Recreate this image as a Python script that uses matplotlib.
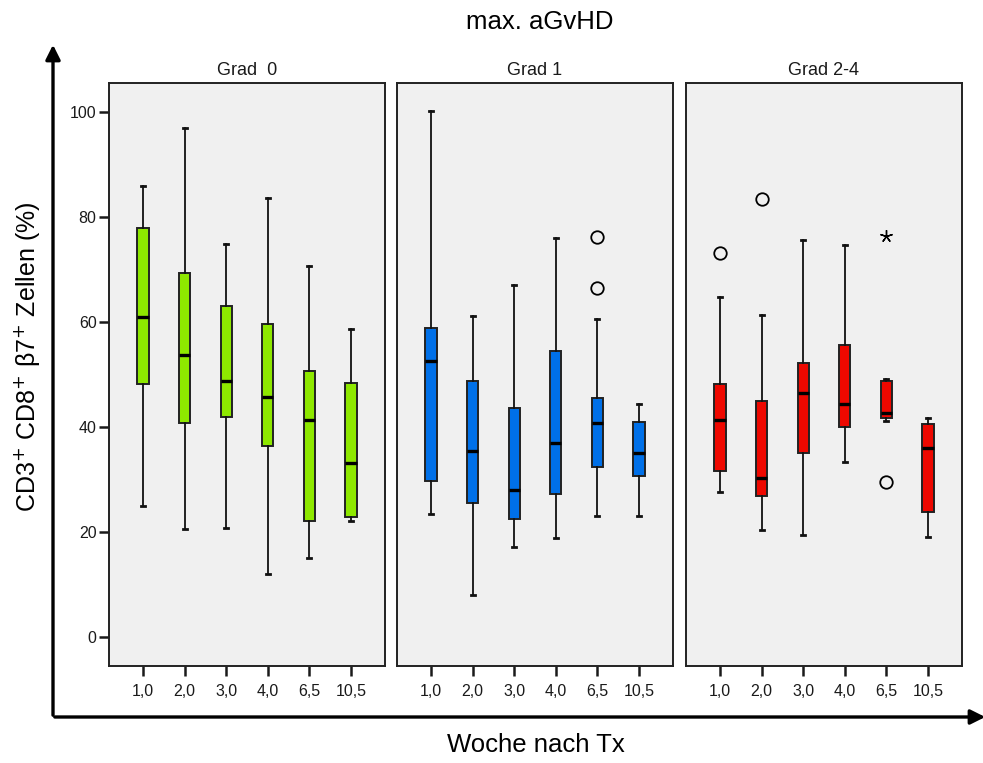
import matplotlib
matplotlib.use("Agg")
import matplotlib.pyplot as plt
from matplotlib.patches import FancyArrowPatch

plt.rcParams["font.family"] = ["Liberation Sans", "DejaVu Sans"]

W, H = 983, 763
PANEL_BG, INK = "#f0f0f0", "#1a1a1a"

weeks = ["1,0", "2,0", "3,0", "4,0", "6,5", "10,5"]
grades = ["Grad  0", "Grad 1", "Grad 2-4"]
colors = ["#8ee800", "#0070e8", "#ee0800"]

# per grade: whisker low, Q1, median, Q3, whisker high
whislo = [[25.0, 20.5, 20.8, 12.0, 15.0, 22.1],
          [23.5, 8.0, 17.2, 18.9, 23.1, 23.1],
          [27.6, 20.4, 19.5, 33.3, 41.1, 19.1]]
q1 = [[48.2, 40.8, 42.0, 36.4, 22.2, 22.9],
      [29.8, 25.6, 22.5, 27.2, 32.4, 30.7],
      [31.6, 26.9, 35.1, 40.0, 41.8, 23.8]]
med = [[60.9, 53.8, 48.8, 45.7, 41.3, 33.1],
       [52.6, 35.4, 28.1, 36.9, 40.7, 35.1],
       [41.3, 30.3, 46.5, 44.4, 42.6, 36.0]]
q3 = [[77.8, 69.3, 63.1, 59.7, 50.7, 48.4],
      [58.9, 48.8, 43.7, 54.5, 45.6, 40.9],
      [48.2, 45.0, 52.2, 55.7, 48.7, 40.5]]
whishi = [[85.8, 97.0, 74.8, 83.6, 70.7, 58.7],
          [100.1, 61.2, 67.0, 75.9, 60.6, 44.4],
          [64.7, 61.4, 75.6, 74.6, 49.1, 41.8]]
# outliers (circles) and extremes (stars)
outliers = [[[], [], [], [], [], []],
            [[], [], [], [], [76.1, 66.5], []],
            [[73.2], [83.4], [], [], [29.5], []]]
extremes = [[[], [], [], [], [], []],
            [[], [], [], [], [], []],
            [[], [], [], [], [76.4], []]]

fig = plt.figure(figsize=(W / 100, H / 100), dpi=100)
fig.patch.set_facecolor("white")

lefts = [109, 397, 686]
for g in range(3):
    ax = fig.add_axes([lefts[g] / W, (H - 666) / H, 276 / W, 583 / H])
    ax.set_facecolor(PANEL_BG)
    stats = []
    for i in range(len(weeks)):
        stats.append(dict(whislo=whislo[g][i], q1=q1[g][i], med=med[g][i],
                          q3=q3[g][i], whishi=whishi[g][i], fliers=outliers[g][i]))
    ax.bxp(stats, positions=range(len(weeks)), widths=0.27, patch_artist=True,
           showfliers=True, capwidths=0.1,
           boxprops=dict(facecolor=colors[g], edgecolor="#222222", linewidth=1.4),
           medianprops=dict(color="black", linewidth=2.4),
           whiskerprops=dict(color="#111111", linewidth=1.3),
           capprops=dict(color="#111111", linewidth=2.0),
           flierprops=dict(marker="o", markersize=9, markerfacecolor="none",
                           markeredgecolor="black", markeredgewidth=1.3))
    for i in range(len(weeks)):
        if extremes[g][i]:
            ax.plot([i] * len(extremes[g][i]), extremes[g][i], marker=(5, 2, 0),
                    ms=9, mew=1.0, color="black", ls="none")
    ax.set_xlim(-0.82, 5.82)
    ax.set_ylim(-5.5, 105.5)
    ax.set_xticks(range(len(weeks)))
    ax.set_xticklabels(weeks, fontsize=11.5, color=INK)
    ax.tick_params(axis="x", length=7, width=1.8, pad=6, color=INK)
    if g == 0:
        ax.set_yticks([0, 20, 40, 60, 80, 100])
        ax.tick_params(axis="y", length=7, width=1.8, pad=2, labelsize=11.5, color=INK,
                       labelcolor=INK)
    else:
        ax.set_yticks([])
    for s in ax.spines.values():
        s.set_linewidth(1.4)
        s.set_color("#222222")
    ax.set_title(grades[g], fontsize=13, pad=6, color=INK)

fig.text(540 / W, 1 - 22 / H, "max. aGvHD", ha="center", va="center", fontsize=18.5)
fig.text(536 / W, 1 - 745 / H, "Woche nach Tx", ha="center", va="center", fontsize=18.5)
fig.text(27 / W, 1 - 357 / H, "CD3$^{+}$ CD8$^{+}$ β7$^{+}$ Zellen (%)", ha="center",
         va="center", rotation=90, fontsize=18)

# long arrows framing the plot
fig.add_artist(FancyArrowPatch((53 / W, 1 - 718 / H), (53 / W, 1 - 42 / H),
                               transform=fig.transFigure, arrowstyle="-|>",
                               mutation_scale=22, lw=2.4, color="black"))
fig.add_artist(FancyArrowPatch((52 / W, 1 - 717 / H), (988 / W, 1 - 717 / H),
                               transform=fig.transFigure, arrowstyle="-|>",
                               mutation_scale=22, lw=2.4, color="black"))

fig.savefig("out.png", dpi=100, facecolor="white")
